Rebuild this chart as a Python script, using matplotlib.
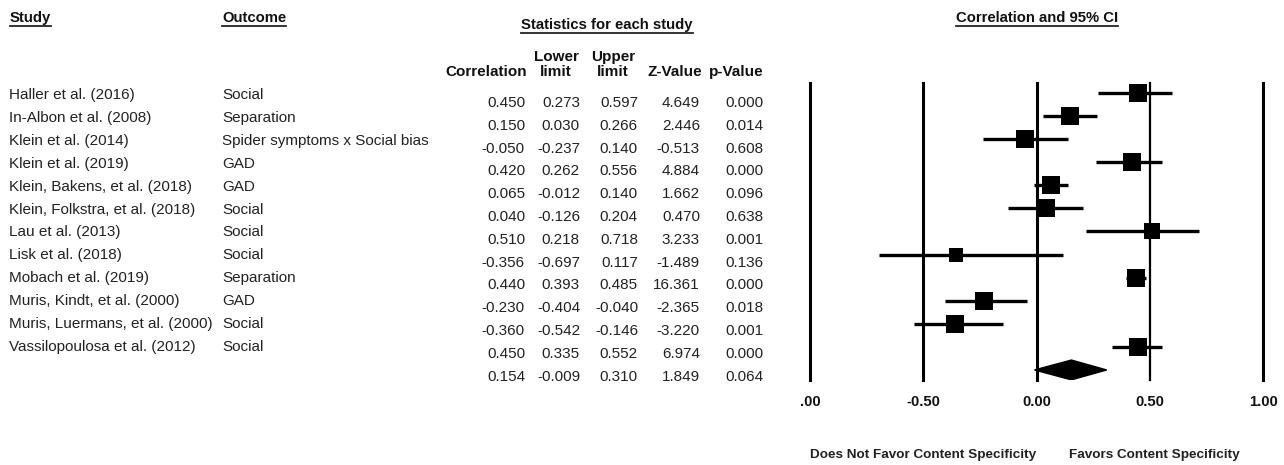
import matplotlib
matplotlib.use('Agg')
import matplotlib.pyplot as plt
from matplotlib.lines import Line2D

plt.rcParams['font.family'] = ['Liberation Sans', 'DejaVu Sans']

# ============================================================
# DATA
# ============================================================

studies = [
    'Haller et al. (2016)', 'In-Albon et al. (2008)', 'Klein et al. (2014)',
    'Klein et al. (2019)', 'Klein, Bakens, et al. (2018)',
    'Klein, Folkstra, et al. (2018)', 'Lau et al. (2013)', 'Lisk et al. (2018)',
    'Mobach et al. (2019)', 'Muris, Kindt, et al. (2000)',
    'Muris, Luermans, et al. (2000)', 'Vassilopoulosa et al. (2012)',
]
outcomes = [
    'Social', 'Separation', 'Spider symptoms x Social bias', 'GAD', 'GAD',
    'Social', 'Social', 'Social', 'Separation', 'GAD', 'Social', 'Social',
]
corr  = [0.450, 0.150, -0.050, 0.420, 0.065, 0.040, 0.510, -0.356, 0.440, -0.230, -0.360, 0.450]
lower = [0.273, 0.030, -0.237, 0.262, -0.012, -0.126, 0.218, -0.697, 0.393, -0.404, -0.542, 0.335]
upper = [0.597, 0.266, 0.140, 0.556, 0.140, 0.204, 0.718, 0.117, 0.485, -0.040, -0.146, 0.552]
zval  = [4.649, 2.446, -0.513, 4.884, 1.662, 0.470, 3.233, -1.489, 16.361, -2.365, -3.220, 6.974]
pval  = [0.000, 0.014, 0.608, 0.000, 0.096, 0.638, 0.001, 0.136, 0.000, 0.018, 0.001, 0.000]

# pooled estimate: correlation, lower, upper, z, p
pooled = [0.154, -0.009, 0.310, 1.849, 0.064]

# relative study weight (box size)
rel_weight = [0.95, 1.0, 0.97, 0.95, 0.97, 1.0, 0.92, 0.76, 1.0, 0.95, 1.0, 0.95]

ticks       = [-1.0, -0.5, 0.0, 0.5, 1.0]
tick_labels = ['.00', '-0.50', '0.00', '0.50', '1.00']

# ============================================================
# LAYOUT (pixel helpers)
# ============================================================

W, H = 1284, 465
fig = plt.figure(figsize=(W / 100, H / 100), dpi=100)


def px(x, y):
    return x / W, 1 - y / H


TXT = '#222222'
FS = 11
underlined = []


def header(x, y, s, ha='left', fs=10.7):
    t = fig.text(*px(x, y), s, ha=ha, va='center', fontsize=fs,
                 fontweight='bold', color='#111111')
    underlined.append(t)
    return t


header(10, 18, 'Study')
header(222, 18, 'Outcome')
header(607, 25, 'Statistics for each study', ha='center')
header(1037, 18, 'Correlation and 95% CI', ha='center')

# column headers
hkw = dict(va='center', fontsize=11, fontweight='bold', color='#111111')
fig.text(*px(527, 72), 'Correlation', ha='right', **hkw)
fig.text(*px(556, 57), 'Lower', ha='center', **hkw)
fig.text(*px(556, 72), 'limit', ha='center', **hkw)
fig.text(*px(613, 57), 'Upper', ha='center', **hkw)
fig.text(*px(613, 72), 'limit', ha='center', **hkw)
fig.text(*px(702, 72), 'Z-Value', ha='right', **hkw)
fig.text(*px(764, 72), 'p-Value', ha='right', **hkw)

# study / outcome labels
for i, (s, o) in enumerate(zip(studies, outcomes)):
    y = 95 + i * 22.9
    fig.text(*px(9, y), s, va='center', fontsize=FS, color=TXT)
    fig.text(*px(222, y), o, va='center', fontsize=FS, color=TXT)

# statistics table
col_right = [525, 580, 638, 700, 763]
rows = list(zip(corr, lower, upper, zval, pval)) + [tuple(pooled)]
for i, row in enumerate(rows):
    y = 103 + i * 22.8
    for xr, v in zip(col_right, row):
        fig.text(*px(xr, y), f'{v:.3f}', ha='right', va='center',
                 fontsize=FS, color=TXT)

# ============================================================
# FOREST PLOT
# ============================================================

x0, x1 = 810, 1263
ytop, ybot = 83, 380
ax = fig.add_axes([x0 / W, (H - ybot) / H, (x1 - x0) / W, (ybot - ytop) / H])
row_h = 23.08
ax.set_xlim(-1, 1)
ax.set_ylim((ybot - 93) / row_h, (ytop - 93) / row_h)

for t in ticks:
    ax.axvline(t, color='black', lw=1.6 if t == 0.5 else 2.2, clip_on=False, zorder=1)

for i in range(len(corr)):
    ax.plot([lower[i], upper[i]], [i, i], color='black', lw=2.4,
            solid_capstyle='butt', zorder=2)
    ax.plot(corr[i], i, marker='s', color='black', markeredgewidth=0,
            markersize=13.3 * rel_weight[i], zorder=3)

# pooled diamond
yd = len(corr)
ax.fill([pooled[1], pooled[0], pooled[2], pooled[0]],
        [yd, yd - 0.43, yd, yd + 0.43], color='black', zorder=3)

for sp in ax.spines.values():
    sp.set_visible(False)
ax.set_yticks([])
ax.set_xticks(ticks)
ax.set_xticklabels(tick_labels, fontsize=10.7, fontweight='bold', color='#111111')
ax.tick_params(axis='x', length=0, pad=11)

btm = ax.get_xaxis_transform()
ax.text(-0.5, -0.253, 'Does Not Favor Content Specificity', transform=btm,
        ha='center', va='center', fontsize=9.7, fontweight='bold', color='#222222')
ax.text(0.52, -0.253, 'Favors Content Specificity', transform=btm,
        ha='center', va='center', fontsize=9.7, fontweight='bold', color='#222222')

# underlines beneath section headers
fig.canvas.draw()
inv = fig.transFigure.inverted()
for t in underlined:
    bb = t.get_window_extent().transformed(inv)
    yl = bb.y0 - 1.5 / H
    fig.add_artist(Line2D([bb.x0, bb.x1], [yl, yl], color='#222222', lw=1.3))

fig.savefig('out.png', dpi=100, facecolor='white')
